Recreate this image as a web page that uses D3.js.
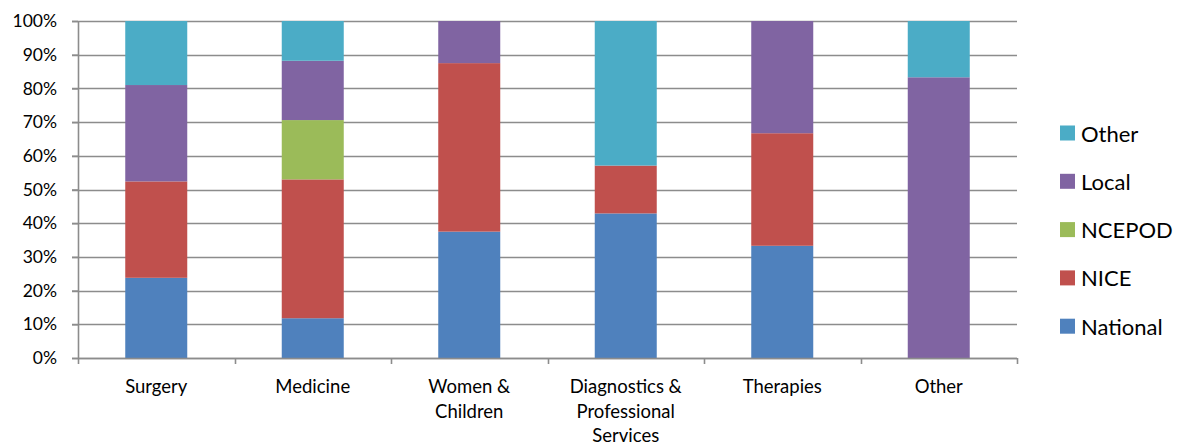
<!DOCTYPE html>
<html>
<head>
<meta charset="utf-8">
<script src="https://cdn.jsdelivr.net/npm/d3@7"></script>
<style>
  html, body { margin: 0; padding: 0; background: #fff; }
  svg { display: block; font-family: Lato, "Open Sans", sans-serif; }
</style>
</head>
<body>
<svg id="chart" width="1180" height="446"></svg>
<script>
// Directorates along the category axis
const categories = ["Surgery", "Medicine", "Women & Children", "Diagnostics & Professional Services", "Therapies", "Other"];
// Wrapped label lines for each directorate
const categoryLines = [["Surgery"], ["Medicine"], ["Women &", "Children"], ["Diagnostics &", "Professional", "Services"], ["Therapies"], ["Other"]];

// Share of standards by source (percent of each directorate)
const national = [23.8, 11.8, 37.5, 42.9, 33.3, 0];
const nice     = [28.6, 41.2, 50.0, 14.2, 33.4, 0];
const ncepod   = [0,    17.6, 0,    0,    0,    0];
const local    = [28.6, 17.6, 12.5, 0,    33.3, 83.3];
const other    = [19.0, 11.8, 0,    42.9, 0,    16.7];

const seriesNames = ["National", "NICE", "NCEPOD", "Local", "Other"];
const seriesColors = ["#4F81BD", "#C0504D", "#9BBB59", "#8064A2", "#4BACC6"];
const yTicks = [0, 0.1, 0.2, 0.3, 0.4, 0.5, 0.6, 0.7, 0.8, 0.9, 1.0];

const seriesValues = [national, nice, ncepod, local, other];
const rows = categories.map((c, i) => {
  const r = { category: c };
  seriesNames.forEach((s, j) => { r[s] = seriesValues[j][i]; });
  return r;
});

const svg = d3.select("#chart");
const plot = { left: 78, right: 1017, top: 21, bottom: 358 };

const x = d3.scaleBand().domain(categories).range([plot.left, plot.right]).paddingInner(0).paddingOuter(0);
const y = d3.scaleLinear().domain([0, 1]).range([plot.bottom, plot.top]);
const color = d3.scaleOrdinal().domain(seriesNames).range(seriesColors);

const stacked = d3.stack().keys(seriesNames).offset(d3.stackOffsetExpand)(rows);

// Horizontal gridlines
svg.append("g")
  .selectAll("line")
  .data(yTicks)
  .join("line")
  .attr("x1", plot.left - 6)
  .attr("x2", plot.right)
  .attr("y1", d => Math.round(y(d)) + 0.5)
  .attr("y2", d => Math.round(y(d)) + 0.5)
  .attr("stroke", "#8c8c8c")
  .attr("stroke-width", 1.6);

// Stacked bars
const barWidth = 62;
svg.append("g")
  .selectAll("g")
  .data(stacked)
  .join("g")
  .attr("fill", d => color(d.key))
  .selectAll("rect")
  .data(d => d)
  .join("rect")
  .attr("x", d => x(d.data.category) + x.bandwidth() / 2 - barWidth / 2)
  .attr("width", barWidth)
  .attr("y", d => y(d[1]))
  .attr("height", d => Math.max(0, y(d[0]) - y(d[1])));

// Value axis
const yAxis = svg.append("g")
  .attr("transform", `translate(${plot.left},0)`)
  .call(d3.axisLeft(y).tickValues(yTicks).tickFormat(d3.format(".0%")).tickSizeInner(6).tickSizeOuter(0).tickPadding(15));
yAxis.select(".domain").attr("stroke", "#8c8c8c").attr("stroke-width", 1.6);
yAxis.selectAll(".tick line").attr("stroke", "#8c8c8c").attr("stroke-width", 1.6);
yAxis.selectAll(".tick text").attr("fill", "#000").style("font-size", "17.5px").style("font-family", "Lato, sans-serif");

// Category axis line and boundary ticks
const cat = svg.append("g");
cat.append("line")
  .attr("x1", plot.left).attr("x2", plot.right)
  .attr("y1", plot.bottom + 0.5).attr("y2", plot.bottom + 0.5)
  .attr("stroke", "#8c8c8c").attr("stroke-width", 1.6);
const boundaries = categories.map(c => x(c)).concat([x(categories[categories.length - 1]) + x.step()]);
cat.selectAll("line.tick")
  .data(boundaries)
  .join("line")
  .attr("class", "tick")
  .attr("x1", d => Math.round(d) + 0.5).attr("x2", d => Math.round(d) + 0.5)
  .attr("y1", plot.bottom).attr("y2", plot.bottom + 6)
  .attr("stroke", "#8c8c8c").attr("stroke-width", 1.6);

// Category labels
const labels = cat.selectAll("text.cat")
  .data(categories)
  .join("text")
  .attr("class", "cat")
  .attr("text-anchor", "middle")
  .attr("fill", "#000")
  .style("font-size", "18.5px");
labels.each(function(d, i) {
  const t = d3.select(this);
  categoryLines[i].forEach((line, k) => {
    t.append("tspan")
      .attr("x", x(d) + x.bandwidth() / 2)
      .attr("y", 393 + k * 24.5)
      .text(line);
  });
});

// Legend, listed top-down from the last series
const legend = svg.append("g");
const legendItems = legend.selectAll("g")
  .data(seriesNames.slice().reverse())
  .join("g")
  .attr("transform", (d, i) => `translate(1060, ${133 + i * 48.3})`);
legendItems.append("rect")
  .attr("x", 0).attr("y", -7.5)
  .attr("width", 15).attr("height", 15)
  .attr("fill", d => color(d));
legendItems.append("text")
  .attr("x", 21).attr("y", 8.5)
  .attr("fill", "#000")
  .style("font-size", "22px")
  .text(d => d);
</script>
</body>
</html>
